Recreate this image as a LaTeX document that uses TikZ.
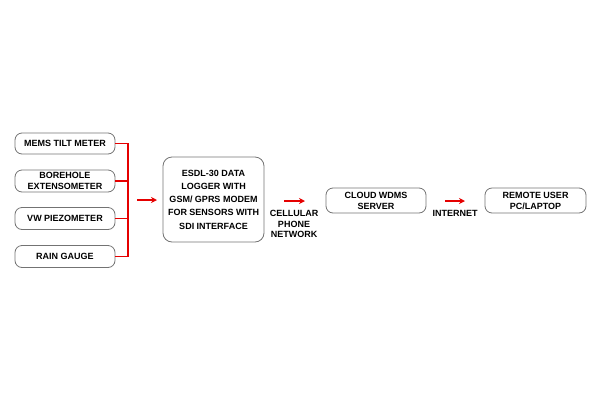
\documentclass[tikz,border=0pt]{standalone}
\usepackage{fontspec}
\setmainfont{Liberation Sans}
\usetikzlibrary{arrows.meta}
\begin{document}
\begin{tikzpicture}[x=1pt,y=-1pt,
  box/.style={draw=black!55,line width=0.8pt,rounded corners=7pt,align=center,inner sep=1pt,
    font=\fontsize{9}{11}\selectfont\bfseries},
  lbl/.style={align=center,inner sep=0pt,font=\fontsize{9}{10.7}\selectfont\bfseries},
  bus/.style={draw=red!90!black,line width=1.5pt},
  arr/.style={draw=red!90!black,line width=1.5pt,-{Stealth[length=6pt,width=6pt]}}]
\useasboundingbox (0,0) rectangle (600,400);
\node[box,minimum width=100pt,minimum height=21pt] (s1) at (65,143.5) {MEMS TILT METER};
\node[box,minimum width=100pt,minimum height=22pt] (s2) at (65,181) {BOREHOLE\\EXTENSOMETER};
\node[box,minimum width=100pt,minimum height=22pt] (s3) at (65,218.5) {VW PIEZOMETER};
\node[box,minimum width=100pt,minimum height=22pt] (s4) at (65,256.5) {RAIN GAUGE};
\coordinate (bx) at (128,0);
\draw[bus] (s1.east) -- (s1.east -| bx) -- (s4.east -| bx) -- (s4.east);
\draw[bus] (s2.east) -- (s2.east -| bx);
\draw[bus] (s3.east) -- (s3.east -| bx);
\node[box,rounded corners=9pt,minimum width=101pt,minimum height=85pt,font=\fontsize{9}{13.3}\selectfont\bfseries] (log) at (213.5,199.5)
  {ESDL-30 DATA\\LOGGER WITH\\GSM/ GPRS MODEM\\FOR SENSORS WITH\\SDI INTERFACE};
\coordinate (a1s) at (137,200);
\coordinate (a1e) at (157,200);
\draw[arr] (a1s) -- (a1e);
\node[box,minimum width=100pt,minimum height=25pt] (cloud) at (376,200.5) {CLOUD WDMS\\SERVER};
\node[box,minimum width=101pt,minimum height=25pt] (rem) at (535.5,200.5) {REMOTE USER\\PC/LAPTOP};
\coordinate (a2s) at (284,201);
\coordinate (a2e) at (305,201);
\draw[arr] (a2s) -- (a2e);
\node[lbl] (cell) at (294,224) {CELLULAR\\PHONE\\NETWORK};
\coordinate (a3s) at (445,201);
\coordinate (a3e) at (465,201);
\draw[arr] (a3s) -- (a3e);
\node[lbl] (inet) at (455,213.5) {INTERNET};
\end{tikzpicture}
\end{document}
